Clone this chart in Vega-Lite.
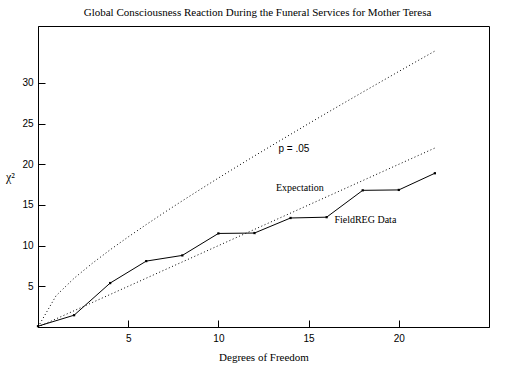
{
  "$schema": "https://vega.github.io/schema/vega-lite/v6.json",
  "autosize": "none",
  "width": 451,
  "height": 301,
  "padding": {"left": 38, "top": 26, "right": 34, "bottom": 41},
  "background": "white",
  "config": {
    "view": {"stroke": "black", "strokeWidth": 1},
    "axis": {
      "grid": false,
      "domainColor": "black",
      "tickColor": "black",
      "tickSize": -7,
      "labelColor": "black",
      "labelFont": "Liberation Sans",
      "labelFontSize": 10,
      "titleFont": "Liberation Serif",
      "titleFontWeight": "normal",
      "titleFontSize": 11,
      "titleColor": "black"
    }
  },
  "title": {
    "text": "Global Consciousness Reaction During the Funeral Services for Mother Teresa",
    "font": "Liberation Serif",
    "fontSize": 11,
    "fontWeight": "normal",
    "color": "black",
    "anchor": "middle",
    "offset": 8,
    "dx": -6
  },
  "datasets": {
    "lines": [
      {"df": 0, "chi": 0, "series": "p = .05"},
      {"df": 1, "chi": 3.84, "series": "p = .05"},
      {"df": 2, "chi": 5.99, "series": "p = .05"},
      {"df": 3, "chi": 7.81, "series": "p = .05"},
      {"df": 4, "chi": 9.49, "series": "p = .05"},
      {"df": 5, "chi": 11.07, "series": "p = .05"},
      {"df": 6, "chi": 12.59, "series": "p = .05"},
      {"df": 7, "chi": 14.07, "series": "p = .05"},
      {"df": 8, "chi": 15.51, "series": "p = .05"},
      {"df": 9, "chi": 16.92, "series": "p = .05"},
      {"df": 10, "chi": 18.31, "series": "p = .05"},
      {"df": 11, "chi": 19.68, "series": "p = .05"},
      {"df": 12, "chi": 21.03, "series": "p = .05"},
      {"df": 13, "chi": 22.36, "series": "p = .05"},
      {"df": 14, "chi": 23.68, "series": "p = .05"},
      {"df": 15, "chi": 25.0, "series": "p = .05"},
      {"df": 16, "chi": 26.3, "series": "p = .05"},
      {"df": 17, "chi": 27.59, "series": "p = .05"},
      {"df": 18, "chi": 28.87, "series": "p = .05"},
      {"df": 19, "chi": 30.14, "series": "p = .05"},
      {"df": 20, "chi": 31.41, "series": "p = .05"},
      {"df": 21, "chi": 32.67, "series": "p = .05"},
      {"df": 22, "chi": 33.92, "series": "p = .05"},
      {"df": 0, "chi": 0, "series": "Expectation"},
      {"df": 22, "chi": 22, "series": "Expectation"}
    ],
    "field": [
      {"df": 0, "chi": 0.1},
      {"df": 2, "chi": 1.45},
      {"df": 4, "chi": 5.4},
      {"df": 6, "chi": 8.1},
      {"df": 8, "chi": 8.8},
      {"df": 10, "chi": 11.5},
      {"df": 12, "chi": 11.55},
      {"df": 14, "chi": 13.4},
      {"df": 16, "chi": 13.5},
      {"df": 18, "chi": 16.8},
      {"df": 20, "chi": 16.85},
      {"df": 22, "chi": 18.9}
    ],
    "labels": [
      {"df": 13.33, "chi": 21.9, "label": "p = .05", "kind": "sans"},
      {"df": 13.19, "chi": 17.1, "label": "Expectation", "kind": "serif"},
      {"df": 16.43, "chi": 13.1, "label": "FieldREG Data", "kind": "serif"}
    ]
  },
  "encoding": {
    "x": {
      "field": "df", "type": "quantitative",
      "scale": {"domain": [0, 25], "nice": false, "zero": false},
      "axis": {"values": [5, 10, 15, 20], "title": "Degrees of Freedom", "labelPadding": 13, "titleY": 30, "titleBaseline": "middle"}
    },
    "y": {
      "field": "chi", "type": "quantitative",
      "scale": {"domain": [0, 37], "nice": false, "zero": false},
      "axis": {"values": [5, 10, 15, 20, 25, 30], "title": "χ²", "titleAngle": 0, "titleX": -28, "titleY": 150, "titleAlign": "center", "titleBaseline": "middle", "labelPadding": 12, "titleFontSize": 12}
    }
  },
  "layer": [
    {
      "data": {"name": "lines"},
      "mark": {"type": "line", "color": "black", "strokeWidth": 1, "strokeDash": [1, 2.5]},
      "encoding": {"detail": {"field": "series"}}
    },
    {
      "data": {"name": "field"},
      "mark": {"type": "line", "color": "black", "strokeWidth": 1}
    },
    {
      "data": {"name": "field"},
      "mark": {"type": "point", "shape": "square", "filled": true, "color": "black", "size": 5, "opacity": 1}
    },
    {
      "data": {"name": "labels"},
      "transform": [{"filter": "datum.kind == 'serif'"}],
      "mark": {"type": "text", "align": "left", "baseline": "middle", "font": "Liberation Serif", "fontSize": 10, "color": "black"},
      "encoding": {"text": {"field": "label"}}
    },
    {
      "data": {"name": "labels"},
      "transform": [{"filter": "datum.kind == 'sans'"}],
      "mark": {"type": "text", "align": "left", "baseline": "middle", "font": "Liberation Sans", "fontSize": 10, "color": "black"},
      "encoding": {"text": {"field": "label"}}
    }
  ]
}
